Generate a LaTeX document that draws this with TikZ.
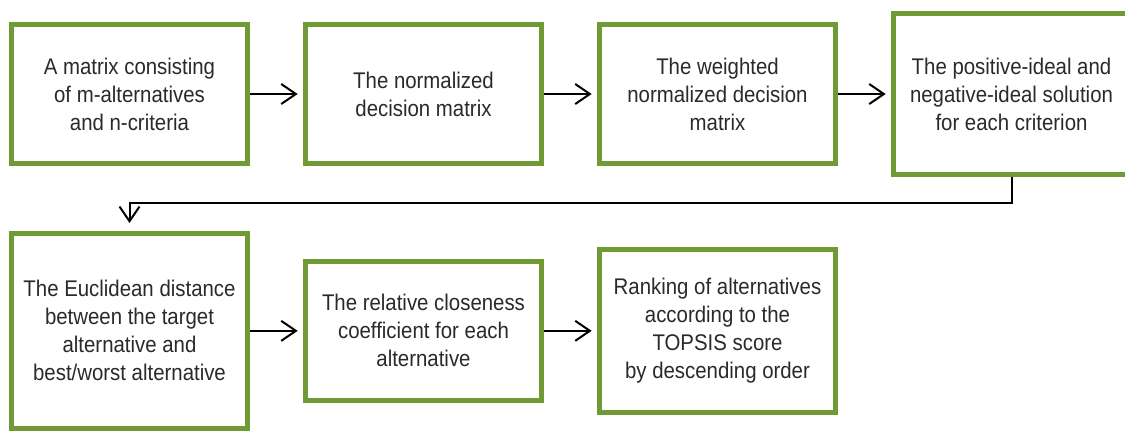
\documentclass[tikz,border=0pt]{standalone}
\usepackage{fontspec}
\setmainfont{Liberation Sans}[FakeStretch=0.9]
\usepackage{xcolor}
\definecolor{topsis-green}{HTML}{6F9A36}
\definecolor{topsis-text}{HTML}{2A2A2A}
\usetikzlibrary{arrows.meta,positioning}
\tikzset{
  stepbox/.style={
    rectangle,
    draw=topsis-green, fill=white, line width=3.75pt,
    minimum width=177pt, minimum height=104.25pt,
    align=center, text=topsis-text,
    font=\fontsize{17}{21}\selectfont
  },
  flowarrow/.style={
    -{Straight Barb[length=11pt,width=15pt]}, line width=1.5pt,
    draw=black, shorten >=4pt
  },
}

\begin{document}
\begin{tikzpicture}[
  x=0.75pt, y=-0.75pt,
  node distance=48.75pt and 39.75pt
]
  \useasboundingbox (0,0) rectangle (1125,430);

  % first row
  \node[stepbox] (mat) at (129.5,94)
    {A matrix consisting\\of m-alternatives\\and n-criteria};
  \node[stepbox, right=of mat] (norm)
    {The normalized\\decision matrix};
  \node[stepbox, right=of norm] (wnorm)
    {The weighted\\normalized decision\\matrix};
  \node[stepbox, right=of wnorm, minimum height=120.75pt] (ideal)
    {The positive-ideal and\\negative-ideal solution\\for each criterion};

  % second row
  \node[stepbox, below=of mat, anchor=north, minimum height=146pt] (dist)
    {The Euclidean distance\\between the target\\alternative and\\best/worst alternative};
  \node[stepbox, right=of dist] (close)
    {The relative closeness\\coefficient for each\\alternative};
  \node[stepbox, right=of close, minimum height=122.25pt] (rank)
    {Ranking of alternatives\\according to the\\TOPSIS score\\by descending order};

  \draw[flowarrow] (mat)   -- (norm);
  \draw[flowarrow] (norm)  -- (wnorm);
  \draw[flowarrow] (wnorm) -- (ideal);
  \draw[flowarrow, shorten >=6pt] (ideal.south) -- ++(0,-19.5pt) -| (dist.north);
  \draw[flowarrow] (dist)  -- (close);
  \draw[flowarrow] (close) -- (rank);

\end{tikzpicture}
\end{document}
